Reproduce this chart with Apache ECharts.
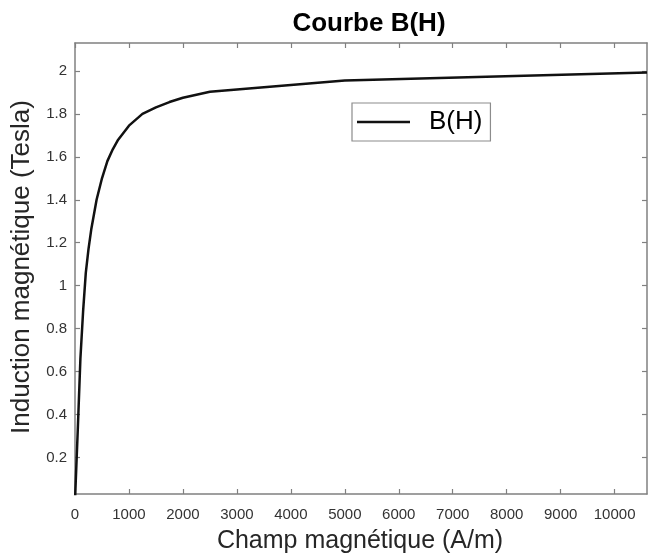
<!DOCTYPE html>
<html>
<head>
<meta charset="utf-8">
<script src="https://cdn.jsdelivr.net/npm/echarts@6/dist/echarts.min.js"></script>
<style>
  html, body { margin: 0; padding: 0; background: #fff; }
  #main { width: 648px; height: 559px; }
</style>
</head>
<body>
<div id="main"></div>
<script>
// courbe B(H) : champ H (A/m) -> induction B (T)
const hValues = [0, 50, 100, 150, 200, 250, 300, 400, 500, 600, 700, 800, 1000, 1250, 1500, 1750, 2000, 2500, 5000, 10600];
const bValues = [0, 0.32, 0.66, 0.88, 1.06, 1.17, 1.26, 1.40, 1.50, 1.58, 1.635, 1.68, 1.745, 1.80, 1.83, 1.855, 1.875, 1.903, 1.955, 1.993];
const xTicks = [0, 1000, 2000, 3000, 4000, 5000, 6000, 7000, 8000, 9000, 10000];
const yTicks = [0.2, 0.4, 0.6, 0.8, 1, 1.2, 1.4, 1.6, 1.8, 2];

const FONT = 'Liberation Sans, Arial, sans-serif';
const AXIS_COLOR = '#808080';

const chart = echarts.init(document.getElementById('main'), null, { renderer: 'canvas' });

const points = hValues.map((h, i) => [h, bValues[i]]);

function tickStyle(values) {
  return { show: true, inside: true, length: 5, customValues: values, lineStyle: { color: AXIS_COLOR, width: 1.2 } };
}

function boxAxis(extra) {
  return Object.assign({
    type: 'value',
    axisLine: { show: true, onZero: false, lineStyle: { color: AXIS_COLOR, width: 1.5 } },
    splitLine: { show: false }
  }, extra);
}

const option = {
  animation: false,
  backgroundColor: '#fff',
  textStyle: { fontFamily: FONT },
  grid: { left: 75, right: 1, top: 43, bottom: 65 },
  graphic: [
    { type: 'text', x: 369, y: 24, style: { text: 'Courbe B(H)', font: 'bold 26px ' + FONT, fill: '#000', textAlign: 'center', textVerticalAlign: 'middle' } },
    { type: 'text', x: 360, y: 541, style: { text: 'Champ magnétique (A/m)', font: '25px ' + FONT, fill: '#262626', textAlign: 'center', textVerticalAlign: 'middle' } },
    { type: 'text', x: 22, y: 267, rotation: Math.PI / 2, style: { text: 'Induction magnétique (Tesla)', font: '26px ' + FONT, fill: '#262626', textAlign: 'center', textVerticalAlign: 'middle' } }
  ],
  legend: {
    data: ['B(H)'],
    left: 352, top: 103,
    orient: 'vertical',
    icon: 'rect',
    itemWidth: 53, itemHeight: 2.5,
    padding: [5, 8, 5, 5],
    borderColor: '#8c8c8c', borderWidth: 1.2,
    backgroundColor: '#fff',
    itemStyle: { color: '#111' },
    textStyle: { fontSize: 26, lineHeight: 28, color: '#000', fontFamily: FONT, padding: [0, 0, 0, 14] }
  },
  xAxis: [
    boxAxis({
      position: 'bottom', min: 0, max: 10600,
      axisTick: tickStyle(xTicks),
      axisLabel: { customValues: xTicks, color: '#333', fontSize: 15, margin: 13, fontFamily: FONT, formatter: v => String(v) }
    }),
    boxAxis({
      position: 'top', min: 0, max: 10600,
      axisTick: tickStyle(xTicks),
      axisLabel: { show: false }
    })
  ],
  yAxis: [
    boxAxis({
      position: 'left', min: 0.03, max: 2.13,
      axisTick: tickStyle(yTicks),
      axisLabel: { customValues: yTicks, color: '#333', fontSize: 15, margin: 8, fontFamily: FONT, formatter: v => String(+v.toFixed(1)) }
    }),
    boxAxis({
      position: 'right', min: 0.03, max: 2.13,
      axisTick: tickStyle(yTicks),
      axisLabel: { show: false }
    })
  ],
  series: [
    {
      name: 'B(H)',
      type: 'line',
      data: points,
      showSymbol: false,
      symbol: 'none',
      clip: true,
      lineStyle: { color: '#111', width: 2.5 },
      itemStyle: { color: '#111' }
    }
  ]
};

chart.setOption(option);
</script>
</body>
</html>
